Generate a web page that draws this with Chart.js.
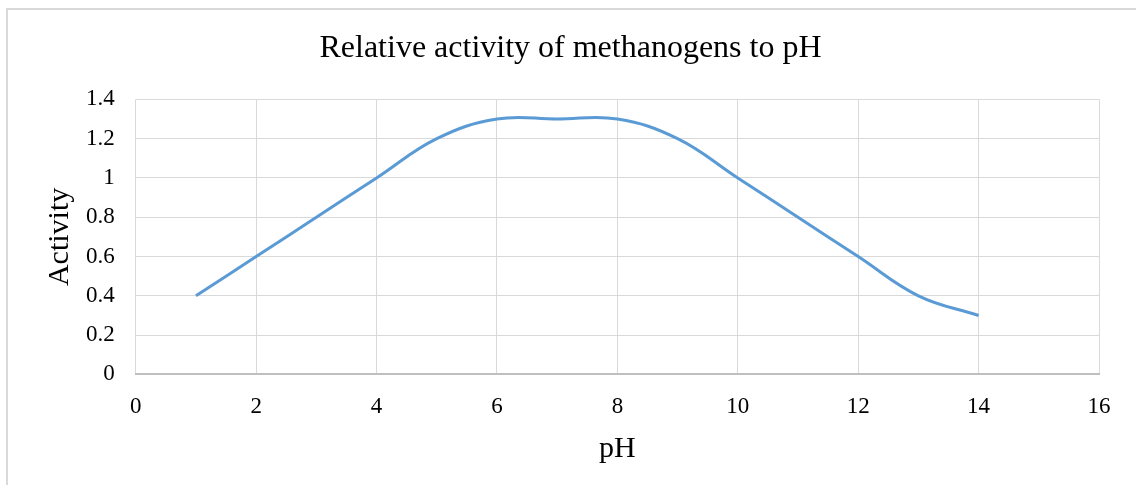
<!DOCTYPE html>
<html>
<head>
<meta charset="utf-8">
<script src="https://cdn.jsdelivr.net/npm/chart.js@4/dist/chart.umd.min.js"></script>
<style>
  body { margin: 0; background: #fff; }
  #wrap { position: relative; width: 1136px; height: 485px; overflow: hidden; }
  #frame { position: absolute; left: 6px; top: 8px; width: 1200px; height: 600px; border: 2px solid #d9d9d9; }
  canvas { position: absolute; left: 0; top: 0; }
</style>
</head>
<body>
<div id="wrap">
  <div id="frame"></div>
  <canvas id="chart" width="1136" height="485"></canvas>
</div>
<script>
// pH vs relative activity
const phValues = [1, 2, 3, 4, 5, 6, 7, 8, 9, 10, 11, 12, 13, 14];
const activity = [0.4, 0.6, 0.8, 1.0, 1.2, 1.3, 1.3, 1.3, 1.2, 1.0, 0.8, 0.6, 0.4, 0.3];
const xTicks = [0, 2, 4, 6, 8, 10, 12, 14, 16];
const yTicks = ['0', '0.2', '0.4', '0.6', '0.8', '1', '1.2', '1.4'];

const serif = "'Liberation Serif', 'Times New Roman', serif";

new Chart(document.getElementById('chart'), {
    type: 'line',
    data: {
        datasets: [{
            data: phValues.map((x, i) => ({ x: x, y: activity[i] })),
            borderColor: '#5b9bd5',
            borderWidth: 3,
            pointRadius: 0,
            tension: 0.4,
            fill: false
        }]
    },
    options: {
        responsive: false,
        animation: false,
        layout: { padding: { left: 42, right: 37, top: 29, bottom: 18 } },
        plugins: {
            legend: { display: false },
            tooltip: { enabled: false },
            title: {
                display: true,
                text: 'Relative activity of methanogens to pH',
                color: '#000',
                font: { family: serif, size: 32, weight: 'normal' },
                padding: { top: 0, bottom: 32 }
            }
        },
        scales: {
            x: {
                type: 'linear',
                min: 0,
                max: 16,
                afterBuildTicks: axis => { axis.ticks = xTicks.map(v => ({ value: v })); },
                ticks: { color: '#000', font: { family: serif, size: 23 }, padding: 19, maxRotation: 0 },
                grid: { color: '#d9d9d9', lineWidth: 1, drawTicks: false },
                border: { color: '#bfbfbf', width: 2 },
                title: {
                    display: true,
                    text: 'pH',
                    color: '#000',
                    font: { family: serif, size: 30 },
                    padding: { top: -9, bottom: 0 }
                }
            },
            y: {
                min: 0,
                max: 1.4,
                ticks: {
                    stepSize: 0.2,
                    color: '#000',
                    font: { family: serif, size: 23 },
                    padding: 21,
                    callback: (v) => yTicks[Math.round(v / 0.2)]
                },
                grid: { color: '#d9d9d9', lineWidth: 1, drawTicks: false },
                border: { display: false },
                title: {
                    display: true,
                    text: 'Activity',
                    color: '#000',
                    font: { family: serif, size: 30 },
                    padding: { top: 0, bottom: -13 }
                }
            }
        }
    }
});
</script>
</body>
</html>
